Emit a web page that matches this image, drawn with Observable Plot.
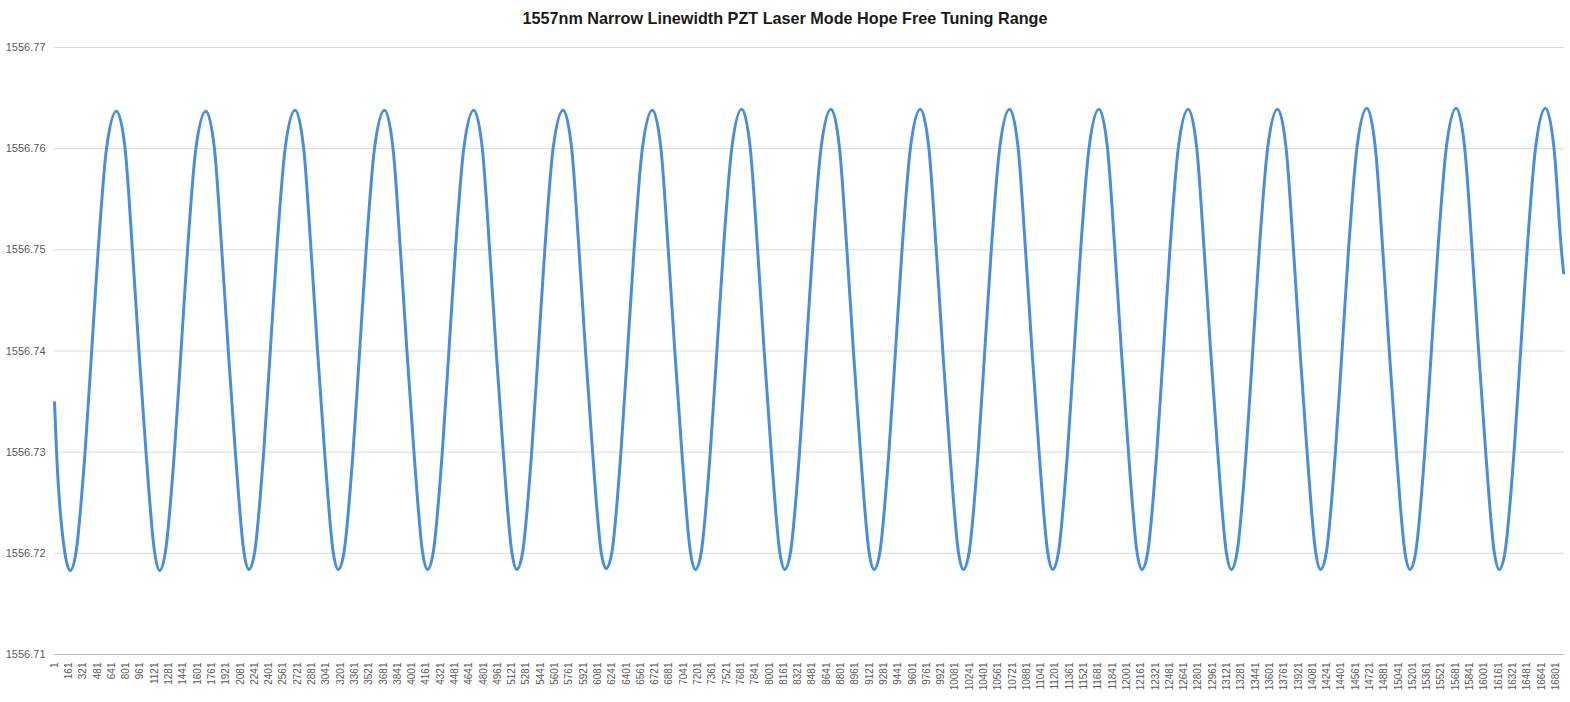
<!DOCTYPE html>
<html>
<head>
<meta charset="utf-8">
<script src="https://cdn.jsdelivr.net/npm/d3@7"></script>
<script src="https://cdn.jsdelivr.net/npm/@observablehq/plot@0.6"></script>
<style>
  html, body { margin: 0; padding: 0; background: #ffffff; }
  #title { width: 1570px; height: 36px; line-height: 36px; text-align: center; font-family: "Liberation Sans", Arial, sans-serif; font-weight: bold; font-size: 16.2px; color: #1a1a1a; }
</style>
</head>
<body>
<div id="title">1557nm Narrow Linewidth PZT Laser Mode Hope Free Tuning Range</div>
<div id="chart"></div>
<script>
const sampleIndex = [
  1, 24, 118,
  177, 240, 343, 417, 490, 583, 695, 791, 873, 946, 1025, 1123,
  1177, 1240, 1343, 1417, 1490, 1583, 1695, 1791, 1873, 1946, 2025, 2123,
  2176, 2239, 2342, 2416, 2489, 2582, 2694, 2790, 2872, 2945, 3024, 3122,
  3176, 3239, 3342, 3416, 3489, 3582, 3694, 3790, 3872, 3945, 4024, 4122,
  4175, 4238, 4341, 4415, 4488, 4581, 4693, 4789, 4871, 4944, 5023, 5121,
  5175, 5238, 5341, 5415, 5488, 5581, 5693, 5789, 5871, 5944, 6023, 6121,
  6174, 6237, 6340, 6414, 6487, 6580, 6692, 6788, 6870, 6943, 7022, 7120,
  7174, 7237, 7340, 7414, 7487, 7580, 7692, 7788, 7870, 7943, 8022, 8120,
  8173, 8236, 8339, 8413, 8486, 8579, 8691, 8787, 8869, 8942, 9021, 9119,
  9173, 9236, 9339, 9413, 9486, 9579, 9691, 9787, 9869, 9942, 10021, 10119,
  10172, 10235, 10338, 10412, 10485, 10578, 10690, 10786, 10868, 10941, 11020, 11118,
  11172, 11235, 11338, 11412, 11485, 11578, 11690, 11786, 11868, 11941, 12020, 12118,
  12171, 12234, 12337, 12411, 12484, 12577, 12689, 12785, 12867, 12940, 13019, 13117,
  13171, 13234, 13337, 13411, 13484, 13577, 13689, 13785, 13867, 13940, 14019, 14117,
  14170, 14233, 14336, 14410, 14483, 14576, 14688, 14784, 14866, 14939, 15018, 15116,
  15170, 15233, 15336, 15410, 15483, 15576, 15688, 15784, 15866, 15939, 16018, 16116,
  16169, 16232, 16335, 16409, 16482, 16575, 16687, 16783, 16865, 16890
];
const wavelength = [
  1556.7349, 1556.73, 1556.72,
  1556.7183, 1556.72, 1556.73, 1556.74, 1556.75, 1556.76, 1556.7637, 1556.76, 1556.75, 1556.74, 1556.73, 1556.72,
  1556.7183, 1556.72, 1556.73, 1556.74, 1556.75, 1556.76, 1556.7637, 1556.76, 1556.75, 1556.74, 1556.73, 1556.72,
  1556.7184, 1556.72, 1556.73, 1556.74, 1556.75, 1556.76, 1556.7638, 1556.76, 1556.75, 1556.74, 1556.73, 1556.72,
  1556.7184, 1556.72, 1556.73, 1556.74, 1556.75, 1556.76, 1556.7638, 1556.76, 1556.75, 1556.74, 1556.73, 1556.72,
  1556.7184, 1556.72, 1556.73, 1556.74, 1556.75, 1556.76, 1556.7638, 1556.76, 1556.75, 1556.74, 1556.73, 1556.72,
  1556.7184, 1556.72, 1556.73, 1556.74, 1556.75, 1556.76, 1556.7638, 1556.76, 1556.75, 1556.74, 1556.73, 1556.72,
  1556.7185, 1556.72, 1556.73, 1556.74, 1556.75, 1556.76, 1556.7638, 1556.76, 1556.75, 1556.74, 1556.73, 1556.72,
  1556.7184, 1556.72, 1556.73, 1556.74, 1556.75, 1556.76, 1556.7639, 1556.76, 1556.75, 1556.74, 1556.73, 1556.72,
  1556.7184, 1556.72, 1556.73, 1556.74, 1556.75, 1556.76, 1556.7639, 1556.76, 1556.75, 1556.74, 1556.73, 1556.72,
  1556.7184, 1556.72, 1556.73, 1556.74, 1556.75, 1556.76, 1556.7639, 1556.76, 1556.75, 1556.74, 1556.73, 1556.72,
  1556.7184, 1556.72, 1556.73, 1556.74, 1556.75, 1556.76, 1556.7639, 1556.76, 1556.75, 1556.74, 1556.73, 1556.72,
  1556.7184, 1556.72, 1556.73, 1556.74, 1556.75, 1556.76, 1556.7639, 1556.76, 1556.75, 1556.74, 1556.73, 1556.72,
  1556.7184, 1556.72, 1556.73, 1556.74, 1556.75, 1556.76, 1556.7639, 1556.76, 1556.75, 1556.74, 1556.73, 1556.72,
  1556.7184, 1556.72, 1556.73, 1556.74, 1556.75, 1556.76, 1556.7639, 1556.76, 1556.75, 1556.74, 1556.73, 1556.72,
  1556.7184, 1556.72, 1556.73, 1556.74, 1556.75, 1556.76, 1556.7640, 1556.76, 1556.75, 1556.74, 1556.73, 1556.72,
  1556.7184, 1556.72, 1556.73, 1556.74, 1556.75, 1556.76, 1556.7640, 1556.76, 1556.75, 1556.74, 1556.73, 1556.72,
  1556.7184, 1556.72, 1556.73, 1556.74, 1556.75, 1556.76, 1556.7640, 1556.76, 1556.75, 1556.7477
];
const yTicks = [1556.71, 1556.72, 1556.73, 1556.74, 1556.75, 1556.76, 1556.77];
const xTickLabels = [
  1, 161, 321, 481, 641, 801, 961, 1121, 1281, 1441, 1601, 1761, 1921, 2081, 2241, 2401,
  2561, 2721, 2881, 3041, 3201, 3361, 3521, 3681, 3841, 4001, 4161, 4321, 4481, 4641, 4801,
  4961, 5121, 5281, 5441, 5601, 5761, 5921, 6081, 6241, 6401, 6561, 6721, 6881, 7041, 7201,
  7361, 7521, 7681, 7841, 8001, 8161, 8321, 8481, 8641, 8801, 8961, 9121, 9281, 9441, 9601,
  9761, 9921, 10081, 10241, 10401, 10561, 10721, 10881, 11041, 11201, 11361, 11521, 11681,
  11841, 12001, 12161, 12321, 12481, 12641, 12801, 12961, 13121, 13281, 13441, 13601, 13761,
  13921, 14081, 14241, 14401, 14561, 14721, 14881, 15041, 15201, 15361, 15521, 15681, 15841,
  16001, 16161, 16321, 16481, 16641, 16801
];

const data = sampleIndex.map((i, k) => ({i, v: wavelength[k]}));

const chart = Plot.plot({
  width: 1570,
  height: 666,
  marginTop: 11,
  marginBottom: 48,
  marginLeft: 54,
  marginRight: 6,
  style: {fontFamily: "Liberation Sans, Arial, sans-serif", background: "#ffffff"},
  x: {type: "linear", domain: [1, 16900], label: null},
  y: {domain: [1556.71, 1556.77], label: null},
  marks: [
    Plot.gridY(yTicks, {stroke: "#d9d9d9", strokeOpacity: 1}),
    Plot.ruleY([1556.71], {stroke: "#bfbfbf", strokeWidth: 1}),
    Plot.axisY(yTicks, {tickSize: 0, tickPadding: 9, fontSize: 11, fill: "#595959", tickFormat: d => d.toFixed(2), label: null}),
    Plot.axisX(xTickLabels, {tickSize: 0, tickRotate: -90, tickPadding: 8, fontSize: 10, fill: "#595959", tickFormat: d => String(d), label: null}),
    Plot.line(data, {x: "i", y: "v", stroke: "#4a8fd6", strokeWidth: 3, curve: "monotone-x", strokeLinejoin: "round"})
  ]
});
document.getElementById("chart").appendChild(chart);
</script>
</body>
</html>
